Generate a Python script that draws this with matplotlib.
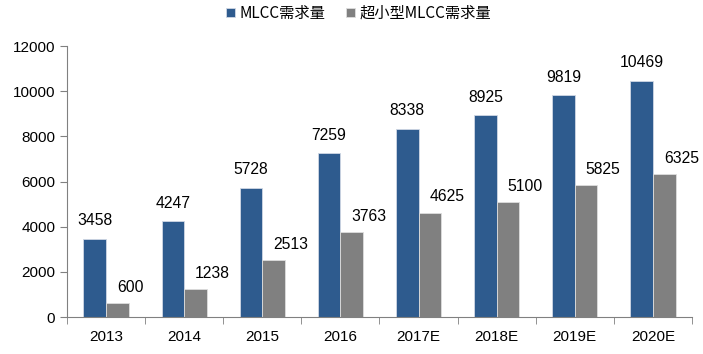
import numpy as np
import matplotlib.pyplot as plt

years = ["2013", "2014", "2015", "2016", "2017E", "2018E", "2019E", "2020E"]
mlcc = [3458, 4247, 5728, 7259, 8338, 8925, 9819, 10469]
small_mlcc = [600, 1238, 2513, 3763, 4625, 5100, 5825, 6325]

plt.rcParams['font.family'] = ['Liberation Sans', 'Noto Sans CJK SC', 'DejaVu Sans']

fig = plt.figure(figsize=(7.03, 3.54), dpi=100)
ax = fig.add_axes([0.0953, 0.1045, 0.889, 0.7655])

x = np.arange(len(years))
w = 0.29
b1 = ax.bar(x - w / 2, mlcc, w, color="#2E5B8E", edgecolor="#d0d8e4", linewidth=0.6,
            label="MLCC需求量")
b2 = ax.bar(x + w / 2, small_mlcc, w, color="#808080", edgecolor="#dddddd", linewidth=0.6,
            label="超小型MLCC需求量")

# value labels: blue centred over the bar, grey ones sit a bit to the right
for rect, v in zip(b1, mlcc):
    ax.text(rect.get_x() + rect.get_width() / 2, v + 600, str(v),
            ha="center", va="baseline", fontsize=11.3)
for rect, v in zip(b2, small_mlcc):
    ax.text(rect.get_x() + 0.14, v + 490, str(v),
            ha="left", va="baseline", fontsize=11.3)

ax.set_xlim(-0.5, len(years) - 0.5)
ax.set_ylim(0, 12000)
ax.set_yticks(range(0, 12001, 2000))
ax.set_xticks(x)
ax.set_xticklabels(years)
ax.set_xticks(np.arange(-0.5, len(years)), minor=True)
ax.tick_params(axis="x", which="major", length=0, pad=9, labelsize=11)
ax.tick_params(axis="x", which="minor", length=5, color="#808080")
ax.tick_params(axis="y", length=5, color="#808080", labelsize=11)

for s in ["top", "right"]:
    ax.spines[s].set_visible(False)
ax.spines["left"].set_color("#808080")
ax.spines["bottom"].set_color("#808080")

fig.legend(handles=[b1, b2], loc="upper center", bbox_to_anchor=(0.51, 1.025),
           ncol=2, frameon=False, handlelength=0.6, handleheight=0.6,
           handletextpad=0.3, columnspacing=1.3,
           prop={"family": ["Noto Sans CJK SC"], "size": 11})

fig.savefig("out.png", dpi=100)
